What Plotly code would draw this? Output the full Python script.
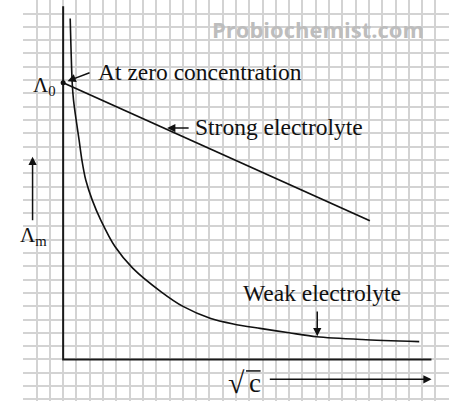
import plotly.graph_objects as go

# values in grid squares (sqrt(c) across, molar conductivity up)
lambda_zero = 20.8

strong_sqrt_c = [0.0, 23.07]
strong_lambda = [lambda_zero, 10.43]

weak_sqrt_c = [0.53, 0.68, 0.78, 0.98, 1.20, 1.41, 1.70, 2.19, 2.83, 3.91, 5.23,
               7.37, 9.05, 11.05, 12.80, 14.81, 16.99, 19.07, 22.47, 26.78]
weak_lambda = [25.63, 20.80, 19.50, 17.99, 16.49, 14.99, 13.49, 11.98, 10.48, 8.47, 6.87,
               5.09, 3.97, 3.10, 2.67, 2.34, 2.01, 1.71, 1.50, 1.34]

axis_x_end = 27.7
axis_y_end = 26.55

serif = "Liberation Serif"

fig = go.Figure()

# hand-drawn style axes
fig.add_trace(go.Scatter(
    x=[0, 0, axis_x_end], y=[axis_y_end, 0, 0],
    mode="lines", line=dict(color="#1a1a1a", width=2),
    hoverinfo="skip", showlegend=False
))

fig.add_trace(go.Scatter(
    x=strong_sqrt_c, y=strong_lambda, mode="lines",
    line=dict(color="#111", width=1.8), name="Strong electrolyte", showlegend=False
))

fig.add_trace(go.Scatter(
    x=weak_sqrt_c, y=weak_lambda, mode="lines", line_shape="spline",
    line=dict(color="#111", width=1.6, smoothing=0.8),
    name="Weak electrolyte", showlegend=False
))

# point at zero concentration
fig.add_trace(go.Scatter(
    x=[0], y=[lambda_zero], mode="markers",
    marker=dict(color="#111", size=5), showlegend=False, hoverinfo="skip"
))

txt = dict(family=serif, size=23.5, color="#111")

def arrow(x0, y0, x1, y1, head=2):
    fig.add_annotation(x=x1, y=y1, ax=x0, ay=y0, xref="x", yref="y",
                       axref="x", ayref="y", text="", showarrow=True,
                       arrowhead=head, arrowsize=1.1, arrowwidth=1.5,
                       arrowcolor="#111")

fig.add_annotation(x=2.5, y=21.6, text="At zero concentration", showarrow=False,
                   xanchor="left", font=txt)
arrow(2.1, 21.6, 0.33, 20.92)

fig.add_annotation(x=9.8, y=17.45, text="Strong electrolyte", showarrow=False,
                   xanchor="left", font=txt)
arrow(9.55, 17.39, 7.82, 17.39)

fig.add_annotation(x=19.44, y=5.0, text="Weak electrolyte", showarrow=False,
                   font=txt)
arrow(19.11, 3.72, 19.11, 1.75)

fig.add_annotation(x=-0.4, y=20.55, text="Λ<sub>0</sub>", showarrow=False,
                   xanchor="right", font=dict(family=serif, size=21, color="#111"))

fig.add_annotation(x=-2.2, y=9.3, text="Λ<sub>m</sub>", showarrow=False,
                   font=dict(family=serif, size=21, color="#111"))
arrow(-2.30, 10.35, -2.30, 15.24)

# sqrt(c) label: radical sign, c, and the bar over c
fig.add_annotation(x=13.85, y=-1.75, text="√", showarrow=False, xanchor="right",
                   font=dict(family=serif, size=30, color="#111"))
fig.add_annotation(x=13.8, y=-1.75, text="c", showarrow=False, xanchor="left",
                   font=dict(family=serif, size=27, color="#111"))
fig.add_shape(type="line", x0=13.75, x1=14.85, y0=-0.86, y1=-0.86,
              line=dict(color="#111", width=1.5))
arrow(15.43, -1.49, 27.71, -1.49)

fig.add_annotation(x=19.13, y=24.85, text="<b>Probiochemist.com</b>", showarrow=False,
                   font=dict(family="Open Sans", size=22, color="#bdbdbd"))

grid = dict(showgrid=True, gridcolor="#d3d3d3", gridwidth=1.6, dtick=1, tick0=0,
            zeroline=False, showticklabels=False, ticks="", showline=False)

fig.update_layout(
    width=474, height=401,
    margin=dict(l=23, r=25, t=0, b=0),
    paper_bgcolor="white", plot_bgcolor="white",
    xaxis=dict(range=[-3.02, 29.02], **grid),
    yaxis=dict(range=[-3.12, 27.02], **grid),
)

fig.write_html("out.html", config={"displayModeBar": False},
               post_script="document.body.style.margin='0';")
